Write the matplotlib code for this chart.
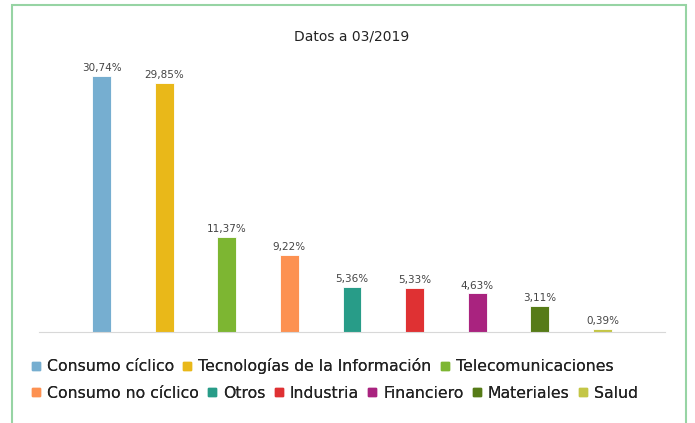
import matplotlib
matplotlib.use('Agg')
import matplotlib.pyplot as plt
from matplotlib.patches import Rectangle
from matplotlib.lines import Line2D

plt.rcParams['font.family'] = ['DejaVu Sans']

title = 'Datos a 03/2019'
sectores = ['Consumo cíclico', 'Tecnologías de la Información', 'Telecomunicaciones',
            'Consumo no cíclico', 'Otros', 'Industria', 'Financiero', 'Materiales', 'Salud']
pesos = [30.74, 29.85, 11.37, 9.22, 5.36, 5.33, 4.63, 3.11, 0.39]
colores = ['#76aed0', '#e9b819', '#7db632', '#fd9151', '#289c88',
           '#df3133', '#a9237f', '#567b17', '#c4c646']

W, H = 695, 423
fig = plt.figure(figsize=(W / 100, H / 100), dpi=100)

# green frame round the chart (bottom edge falls outside the picture)
fig.patches.append(Rectangle((12 / W, -0.05), (686 - 12) / W, 1.05 - 5 / H,
                             transform=fig.transFigure, fill=False,
                             edgecolor='#97d4a4', linewidth=1.5))

# axes: x from 39 to 665 px, baseline at y=332 px, top at y=50 px
ax = fig.add_axes([39 / W, (H - 332) / H, (665 - 39) / W, (332 - 50) / H])
x = list(range(len(sectores)))
ax.bar(x, pesos, width=0.3, color=colores, edgecolor='white', linewidth=0.6)
ax.set_xlim(-1, len(sectores))
ax.set_ylim(0, 30.74 * (332 - 50) / 256)
for xi, v in zip(x, pesos):
    ax.text(xi, v + 0.35, f'{v:.2f}%'.replace('.', ','), ha='center', va='bottom',
            fontsize=7.5, color='#444444')
for s in ['top', 'right', 'left']:
    ax.spines[s].set_visible(False)
ax.spines['bottom'].set_color('#d8d8d8')
ax.set_xticks([])
ax.set_yticks([])

fig.text(352 / W, 1 - 37 / H, title, ha='center', va='center', fontsize=10, color='#222222')


def handles(idx):
    return [Line2D([], [], marker='s', linestyle='none', markersize=5.5,
                   color=colores[i], label=sectores[i]) for i in idx]


fila1 = [0, 1, 2]
fila2 = [3, 4, 5, 6, 7, 8]
for fila, ypix in [(fila1, 366), (fila2, 393)]:
    leg = fig.legend(handles=handles(fila), loc='center left',
                     bbox_to_anchor=(31 / W, 1 - ypix / H), ncol=len(fila),
                     frameon=False, fontsize=11.3, handlelength=0.6,
                     handletextpad=0.4, columnspacing=0.55, borderaxespad=0,
                     borderpad=0)
    for t in leg.get_texts():
        t.set_color('#222222')
    fig.add_artist(leg)

fig.savefig('out.png', dpi=100)
